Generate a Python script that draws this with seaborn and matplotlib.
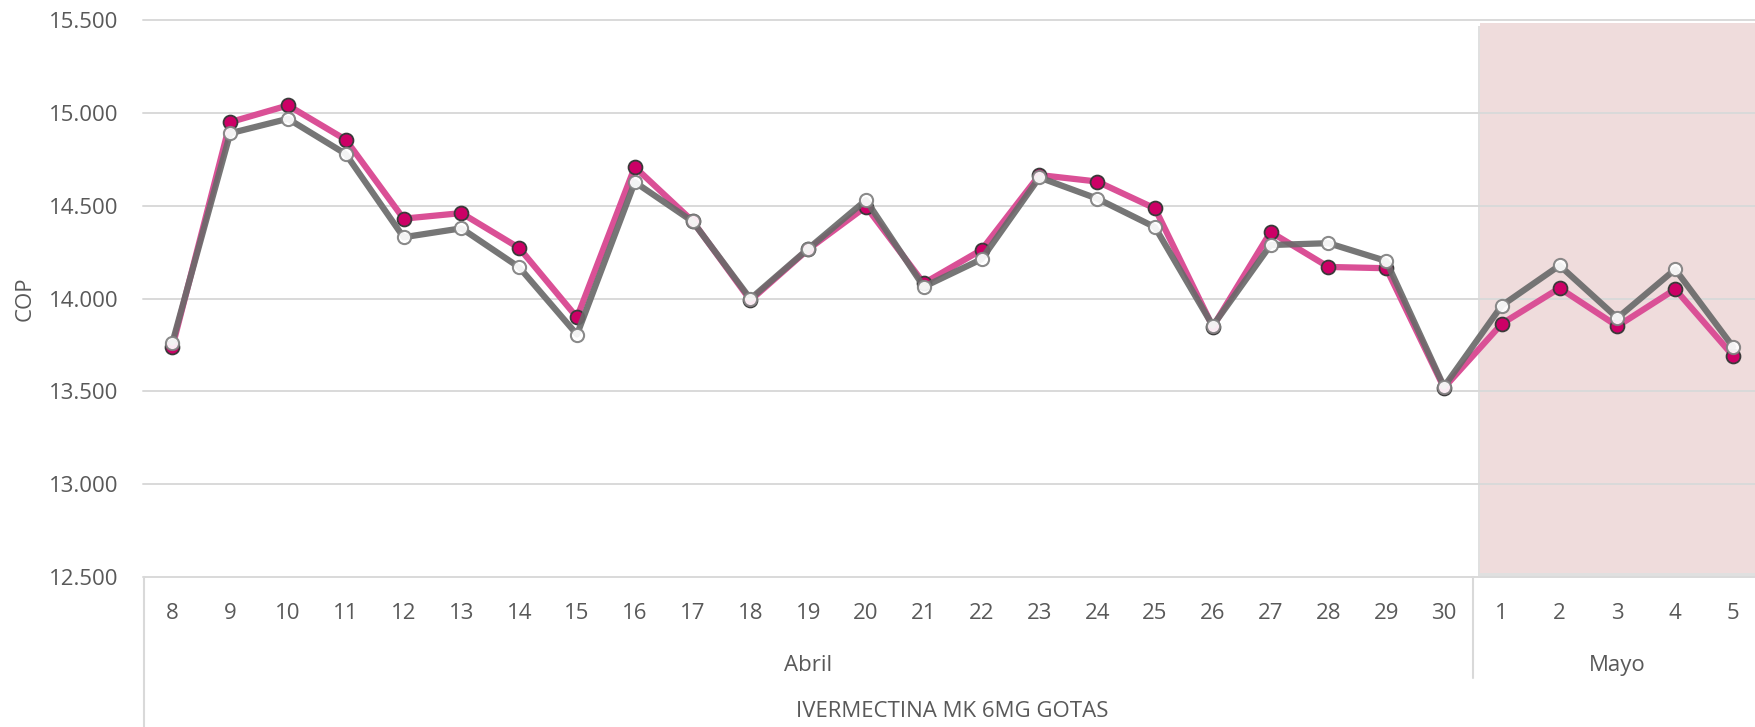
import pandas as pd
import seaborn as sns
import matplotlib.pyplot as plt
import matplotlib.transforms as mtransforms
import matplotlib.patheffects as pe
from matplotlib.patches import Rectangle

days = [8, 9, 10, 11, 12, 13, 14, 15, 16, 17, 18, 19, 20, 21, 22, 23, 24, 25, 26, 27, 28, 29, 30,
        1, 2, 3, 4, 5]
months = ['Abril'] * 23 + ['Mayo'] * 5
product = 'IVERMECTINA MK 6MG GOTAS'

pink_values = [13740, 14950, 15040, 14855, 14430, 14460, 14272, 13898, 14708, 14417,
               13990, 14265, 14495, 14082, 14262, 14665, 14630, 14485, 13848, 14358,
               14170, 14163, 13519, 13864, 14056, 13851, 14050, 13692]
gray_values = [13762, 14890, 14968, 14778, 14330, 14378, 14168, 13806, 14627, 14415,
               13998, 14268, 14530, 14063, 14212, 14652, 14538, 14384, 13853, 14288,
               14298, 14202, 13525, 13962, 14178, 13895, 14157, 13740]

y_ticks = [12500, 13000, 13500, 14000, 14500, 15000, 15500]

sns.set_style('white')
plt.rcParams['font.family'] = ['Open Sans', 'DejaVu Sans']
text_color = '#595959'
grid_color = '#D9D9D9'
fs = 16

df = pd.DataFrame({'pos': range(len(days)), 'day': days, 'month': months,
                   'pink': pink_values, 'gray': gray_values})

W, H = 1756, 727
fig = plt.figure(figsize=(W / 100, H / 100), dpi=100)
left_px, bottom_px, top_px = 143.5, 577, 20
ax = fig.add_axes([left_px / W, (H - bottom_px) / H, 1 - left_px / W, (bottom_px - top_px) / H])

# shaded block for Mayo
shade = Rectangle((22.62, 12522), 10, 15484 - 12522, facecolor='#EFDCDC',
                  edgecolor='none', zorder=0.2)
shade.set_path_effects([pe.SimplePatchShadow(offset=(-1, -2), shadow_rgbFace='#999999', alpha=0.3),
                        pe.Normal()])
ax.add_patch(shade)

sns.lineplot(data=df, x='pos', y='pink', ax=ax, color='#DA5096', linewidth=4.5,
             marker='o', markersize=10, markerfacecolor='#CC0066',
             markeredgecolor='#3A3A3A', markeredgewidth=1.3, zorder=3)
sns.lineplot(data=df, x='pos', y='gray', ax=ax, color='#6A6A6A', linewidth=4.5, alpha=0.92,
             marker='o', markersize=9.5, markerfacecolor=(1, 1, 1, 0.35),
             markeredgecolor='#808080', markeredgewidth=1.5, zorder=4)

ax.set_xlim(-0.5, -0.5 + (W - left_px) / 57.8)
ax.set_ylim(12500, 15500)
ax.set_yticks(y_ticks, labels=[f'{v:,}'.replace(',', '.') for v in y_ticks])
ax.set_xticks(df['pos'], labels=[str(d) for d in days])
ax.tick_params(axis='x', length=0, pad=18.5, labelsize=fs, labelcolor=text_color)
ax.tick_params(axis='y', length=0, pad=18, labelsize=fs, labelcolor=text_color)
ax.set_xlabel('')
ax.set_ylabel('COP', fontsize=fs, color=text_color, va='center')
ax.yaxis.set_label_coords((25 - left_px) / (W - left_px), 0.5)

ax.yaxis.grid(True, color=grid_color, linewidth=1.4)
ax.xaxis.grid(False)
ax.set_axisbelow(True)
for gl in ax.get_ygridlines():
    gl.set_clip_on(False)
for s in ax.spines.values():
    s.set_visible(False)

# multi level category axis
trans = mtransforms.blended_transform_factory(ax.transData, fig.transFigure)
def fy(px):
    return (H - px) / H

month_names = list(dict.fromkeys(months))
for m in month_names:
    idx = df.index[df['month'] == m]
    ax.text((idx.min() + idx.max()) / 2, fy(671), m, transform=trans, ha='center',
            va='baseline', fontsize=fs, color=text_color)
ax.text((len(days) - 1) / 2, fy(717), product, transform=trans, ha='center',
        va='baseline', fontsize=fs, color=text_color)

ax.plot([-0.5, -0.5], [fy(bottom_px), 0], transform=trans, color=grid_color,
        linewidth=1.5, clip_on=False)
ax.plot([22.5, 22.5], [fy(bottom_px), fy(678)], transform=trans, color=grid_color,
        linewidth=1.5, clip_on=False)

fig.savefig('out.png', dpi=100)
